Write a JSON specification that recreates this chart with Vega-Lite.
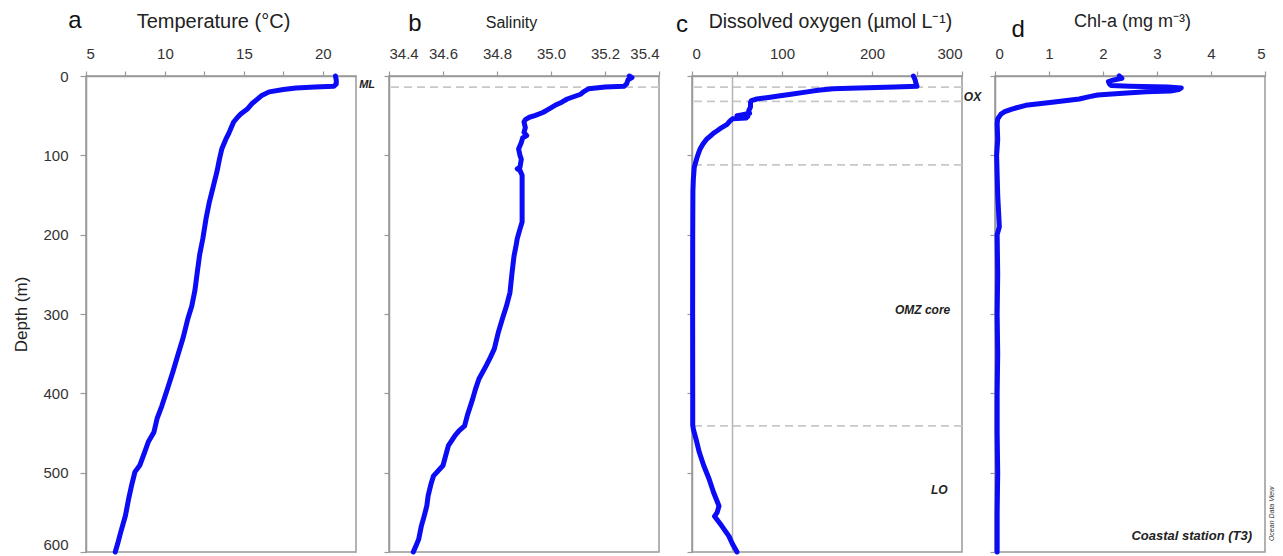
{
  "$schema": "https://vega.github.io/schema/vega-lite/v6.json",
  "padding": {"left": 12, "top": 8, "right": 2, "bottom": 0},
  "bounds": "flush",
  "spacing": 33,
  "background": "white",
  "config": {
    "font": "Liberation Sans",
    "view": {"stroke": "#999999", "strokeWidth": 1.5},
    "axis": {
      "labelFont": "Liberation Sans", "titleFont": "Liberation Sans",
      "labelFontSize": 15, "titleFontSize": 18, "labelColor": "#333333", "titleColor": "#222222",
      "titleFontWeight": "normal", "domainColor": "#999999", "domainWidth": 1.5,
      "tickColor": "#999999", "tickWidth": 1.2, "grid": false
    }
  },
  "datasets": {
    "temp": [
      {"depth": 0, "v": 20.8}, {"depth": 5, "v": 20.85}, {"depth": 10, "v": 20.85}, {"depth": 13, "v": 20.7},
      {"depth": 14, "v": 19.5}, {"depth": 15, "v": 18.3}, {"depth": 17, "v": 17.5}, {"depth": 20, "v": 16.6},
      {"depth": 25, "v": 16.1}, {"depth": 30, "v": 15.8}, {"depth": 35, "v": 15.5}, {"depth": 42, "v": 15.2},
      {"depth": 48, "v": 14.8}, {"depth": 52, "v": 14.6}, {"depth": 58, "v": 14.35}, {"depth": 65, "v": 14.2},
      {"depth": 72, "v": 14.05}, {"depth": 80, "v": 13.85}, {"depth": 92, "v": 13.6}, {"depth": 105, "v": 13.45},
      {"depth": 120, "v": 13.3}, {"depth": 140, "v": 13.05}, {"depth": 160, "v": 12.8}, {"depth": 180, "v": 12.6},
      {"depth": 205, "v": 12.4}, {"depth": 225, "v": 12.2}, {"depth": 247, "v": 12.05}, {"depth": 270, "v": 11.9},
      {"depth": 290, "v": 11.7}, {"depth": 306, "v": 11.45}, {"depth": 330, "v": 11.15}, {"depth": 353, "v": 10.8},
      {"depth": 373, "v": 10.5}, {"depth": 395, "v": 10.15}, {"depth": 416, "v": 9.8}, {"depth": 432, "v": 9.5},
      {"depth": 449, "v": 9.3}, {"depth": 461, "v": 8.95}, {"depth": 475, "v": 8.7}, {"depth": 491, "v": 8.4},
      {"depth": 499, "v": 8.1}, {"depth": 515, "v": 7.9}, {"depth": 533, "v": 7.7}, {"depth": 554, "v": 7.5},
      {"depth": 575, "v": 7.2}, {"depth": 590, "v": 7.0}, {"depth": 600, "v": 6.85}
    ],
    "sal": [
      {"depth": 0, "v": 35.29}, {"depth": 2, "v": 35.3}, {"depth": 5, "v": 35.285}, {"depth": 10, "v": 35.28},
      {"depth": 13, "v": 35.27}, {"depth": 14, "v": 35.2}, {"depth": 16, "v": 35.14}, {"depth": 20, "v": 35.12},
      {"depth": 23, "v": 35.11}, {"depth": 29, "v": 35.06}, {"depth": 33, "v": 35.04}, {"depth": 37, "v": 35.015},
      {"depth": 42, "v": 34.99}, {"depth": 46, "v": 34.97}, {"depth": 50, "v": 34.94}, {"depth": 52, "v": 34.92},
      {"depth": 55, "v": 34.905}, {"depth": 58, "v": 34.9}, {"depth": 65, "v": 34.905}, {"depth": 71, "v": 34.9},
      {"depth": 75, "v": 34.91}, {"depth": 78, "v": 34.895}, {"depth": 84, "v": 34.89}, {"depth": 88, "v": 34.885},
      {"depth": 92, "v": 34.88}, {"depth": 100, "v": 34.885}, {"depth": 105, "v": 34.89}, {"depth": 115, "v": 34.885},
      {"depth": 117, "v": 34.875}, {"depth": 119, "v": 34.885}, {"depth": 125, "v": 34.893}, {"depth": 150, "v": 34.893},
      {"depth": 184, "v": 34.893}, {"depth": 193, "v": 34.885}, {"depth": 205, "v": 34.875}, {"depth": 215, "v": 34.87},
      {"depth": 227, "v": 34.863}, {"depth": 247, "v": 34.856}, {"depth": 260, "v": 34.852}, {"depth": 273, "v": 34.848},
      {"depth": 290, "v": 34.835}, {"depth": 306, "v": 34.82}, {"depth": 323, "v": 34.805}, {"depth": 344, "v": 34.79},
      {"depth": 355, "v": 34.775}, {"depth": 365, "v": 34.76}, {"depth": 382, "v": 34.733}, {"depth": 395, "v": 34.72},
      {"depth": 407, "v": 34.71}, {"depth": 428, "v": 34.69}, {"depth": 441, "v": 34.68}, {"depth": 447, "v": 34.66},
      {"depth": 453, "v": 34.645}, {"depth": 466, "v": 34.62}, {"depth": 491, "v": 34.6}, {"depth": 504, "v": 34.565},
      {"depth": 515, "v": 34.555}, {"depth": 529, "v": 34.545}, {"depth": 542, "v": 34.54}, {"depth": 555, "v": 34.53},
      {"depth": 567, "v": 34.52}, {"depth": 584, "v": 34.51}, {"depth": 592, "v": 34.5}, {"depth": 600, "v": 34.49}
    ],
    "oxy": [
      {"depth": 0, "v": 246}, {"depth": 5, "v": 248}, {"depth": 10, "v": 249}, {"depth": 13, "v": 250},
      {"depth": 14, "v": 225}, {"depth": 15, "v": 185}, {"depth": 16, "v": 157}, {"depth": 18, "v": 140},
      {"depth": 20, "v": 128}, {"depth": 23, "v": 110}, {"depth": 25, "v": 98}, {"depth": 27, "v": 85},
      {"depth": 29, "v": 72}, {"depth": 31, "v": 66}, {"depth": 33, "v": 65}, {"depth": 39, "v": 65},
      {"depth": 44, "v": 63}, {"depth": 47, "v": 64}, {"depth": 49, "v": 55}, {"depth": 50, "v": 50},
      {"depth": 51, "v": 62}, {"depth": 53, "v": 60}, {"depth": 54, "v": 45}, {"depth": 57, "v": 42},
      {"depth": 61, "v": 39}, {"depth": 65, "v": 33}, {"depth": 69, "v": 28}, {"depth": 72, "v": 24},
      {"depth": 76, "v": 20}, {"depth": 80, "v": 16}, {"depth": 86, "v": 12}, {"depth": 92, "v": 9},
      {"depth": 98, "v": 7}, {"depth": 105, "v": 5}, {"depth": 115, "v": 2.5}, {"depth": 130, "v": 1.5},
      {"depth": 145, "v": 1}, {"depth": 200, "v": 0.8}, {"depth": 300, "v": 0.7}, {"depth": 400, "v": 0.8},
      {"depth": 440, "v": 0.8}, {"depth": 445, "v": 1.5}, {"depth": 460, "v": 5}, {"depth": 474, "v": 8},
      {"depth": 491, "v": 13}, {"depth": 508, "v": 19}, {"depth": 525, "v": 24}, {"depth": 542, "v": 30},
      {"depth": 550, "v": 28}, {"depth": 555, "v": 25}, {"depth": 567, "v": 33}, {"depth": 580, "v": 41},
      {"depth": 590, "v": 45}, {"depth": 600, "v": 50}
    ],
    "chl": [
      {"depth": 0, "v": 2.3}, {"depth": 3, "v": 2.35}, {"depth": 5, "v": 2.2}, {"depth": 7, "v": 2.1},
      {"depth": 10, "v": 2.12}, {"depth": 12, "v": 2.15}, {"depth": 13, "v": 2.5}, {"depth": 14, "v": 3.2},
      {"depth": 15, "v": 3.45}, {"depth": 17, "v": 3.4}, {"depth": 19, "v": 3.25}, {"depth": 20, "v": 2.8},
      {"depth": 22, "v": 2.3}, {"depth": 24, "v": 1.9}, {"depth": 26, "v": 1.75}, {"depth": 29, "v": 1.56},
      {"depth": 33, "v": 1.06}, {"depth": 37, "v": 0.57}, {"depth": 40, "v": 0.4}, {"depth": 42, "v": 0.3},
      {"depth": 45, "v": 0.18}, {"depth": 48, "v": 0.11}, {"depth": 54, "v": 0.05}, {"depth": 60, "v": 0.04},
      {"depth": 80, "v": 0.05}, {"depth": 100, "v": 0.03}, {"depth": 150, "v": 0.05}, {"depth": 190, "v": 0.08},
      {"depth": 200, "v": 0.04}, {"depth": 250, "v": 0.05}, {"depth": 300, "v": 0.04}, {"depth": 350, "v": 0.05},
      {"depth": 400, "v": 0.04}, {"depth": 450, "v": 0.04}, {"depth": 500, "v": 0.05}, {"depth": 550, "v": 0.04},
      {"depth": 600, "v": 0.04}
    ],
    "hlines": [
      {"panel": "b", "depth": 14}, {"panel": "c", "depth": 14}, {"panel": "c", "depth": 32},
      {"panel": "c", "depth": 112}, {"panel": "c", "depth": 441}
    ],
    "letters": [
      {"panel": "a", "v": 4.3, "depth": -60, "label": "a"},
      {"panel": "b", "v": 34.496, "depth": -57, "label": "b"},
      {"panel": "c", "v": -11, "depth": -55, "label": "c"},
      {"panel": "d", "v": 0.43, "depth": -49, "label": "d"}
    ],
    "notesL": [
      {"panel": "a", "v": 22.3, "depth": 11, "label": "ML"},
      {"panel": "c", "v": 302, "depth": 27, "label": "OX"}
    ],
    "notesR": [
      {"panel": "c", "v": 287, "depth": 295, "label": "OMZ core"},
      {"panel": "c", "v": 284, "depth": 522, "label": "LO"}
    ],
    "notesD": [
      {"v": 4.76, "depth": 580, "label": "Coastal station (T3)"}
    ],
    "odv": [
      {"v": 5.13, "depth": 552, "label": "Ocean Data View"}
    ],
    "vlines": [
      {"v": 45}
    ]
  },
  "hconcat": [
    {
      "width": 270, "height": 476,
      "layer": [
        {
          "data": {"name": "temp"},
          "mark": {"type": "line", "color": "#0b0bf5", "strokeWidth": 5, "strokeJoin": "round", "strokeCap": "round"},
          "encoding": {
            "x": {"field": "v", "type": "quantitative", "scale": {"domain": [5, 22.1], "nice": false, "zero": false},
              "axis": {"orient": "top", "title": "Temperature (°C)", "titleFontSize": 20, "values": [5, 7.5, 10, 12.5, 15, 17.5, 20],
                "labelExpr": "datum.value % 5 === 0 ? datum.label : ''", "tickSize": 5, "labelPadding": 10, "titlePadding": 15, "titleX": 127}},
            "y": {"field": "depth", "type": "quantitative", "scale": {"domain": [0, 600], "reverse": true, "nice": false},
              "axis": {"title": "Depth (m)", "values": [0, 50, 100, 150, 200, 250, 300, 350, 400, 450, 500, 550, 600],
                "labelExpr": "datum.value % 100 === 0 ? datum.label : ''",
                "labelBaseline": {"condition": {"test": "datum.value === 600", "value": "bottom"}, "value": "middle"},
                "tickSize": 6, "labelPadding": 12, "titlePadding": 12, "titleFontSize": 17}},
            "order": {"field": "depth", "type": "quantitative"}
          }
        },
        {
          "data": {"name": "letters"},
          "transform": [{"filter": "datum.panel === 'a'"}],
          "mark": {"type": "text", "fontSize": 24, "color": "#111111", "align": "center", "baseline": "alphabetic"},
          "encoding": {"x": {"field": "v", "type": "quantitative"}, "y": {"field": "depth", "type": "quantitative"}, "text": {"field": "label"}}
        },
        {
          "data": {"name": "notesL"},
          "transform": [{"filter": "datum.panel === 'a'"}],
          "mark": {"type": "text", "fontSize": 11, "fontWeight": "bold", "fontStyle": "italic", "color": "#222222", "align": "left", "baseline": "middle"},
          "encoding": {"x": {"field": "v", "type": "quantitative"}, "y": {"field": "depth", "type": "quantitative"}, "text": {"field": "label"}}
        }
      ]
    },
    {
      "width": 270, "height": 476,
      "layer": [
        {
          "data": {"name": "hlines"},
          "transform": [{"filter": "datum.panel === 'b'"}],
          "mark": {"type": "rule", "color": "#c8c8c8", "strokeWidth": 1.6, "strokeDash": [8, 5]},
          "encoding": {"y": {"field": "depth", "type": "quantitative"}}
        },
        {
          "data": {"name": "sal"},
          "mark": {"type": "line", "color": "#0b0bf5", "strokeWidth": 5, "strokeJoin": "round", "strokeCap": "round"},
          "encoding": {
            "x": {"field": "v", "type": "quantitative", "scale": {"domain": [34.4, 35.4], "nice": false, "zero": false},
              "axis": {"orient": "top", "title": "Salinity", "titleFontSize": 16, "values": [34.4, 34.5, 34.6, 34.7, 34.8, 34.9, 35.0, 35.1, 35.2, 35.3, 35.4],
                "labelExpr": "(round(datum.value * 10) % 2 === 0) ? format(datum.value, '.1f') : ''", "tickSize": 5, "labelPadding": 10, "titlePadding": 16, "titleX": 122}},
            "y": {"field": "depth", "type": "quantitative", "scale": {"domain": [0, 600], "reverse": true, "nice": false},
              "axis": {"title": null, "labels": false, "values": [0, 50, 100, 150, 200, 250, 300, 350, 400, 450, 500, 550, 600], "tickSize": 5}},
            "order": {"field": "depth", "type": "quantitative"}
          }
        },
        {
          "data": {"name": "letters"},
          "transform": [{"filter": "datum.panel === 'b'"}],
          "mark": {"type": "text", "fontSize": 24, "color": "#111111", "align": "center", "baseline": "alphabetic"},
          "encoding": {"x": {"field": "v", "type": "quantitative"}, "y": {"field": "depth", "type": "quantitative"}, "text": {"field": "label"}}
        }
      ]
    },
    {
      "width": 270, "height": 476,
      "layer": [
        {
          "data": {"name": "hlines"},
          "transform": [{"filter": "datum.panel === 'c'"}],
          "mark": {"type": "rule", "color": "#c8c8c8", "strokeWidth": 1.6, "strokeDash": [8, 5]},
          "encoding": {"y": {"field": "depth", "type": "quantitative"}}
        },
        {
          "data": {"name": "vlines"},
          "mark": {"type": "rule", "color": "#b4b4b4", "strokeWidth": 1.5},
          "encoding": {"x": {"field": "v", "type": "quantitative"}}
        },
        {
          "data": {"name": "oxy"},
          "mark": {"type": "line", "color": "#0b0bf5", "strokeWidth": 5, "strokeJoin": "round", "strokeCap": "round"},
          "encoding": {
            "x": {"field": "v", "type": "quantitative", "scale": {"domain": [0, 300], "nice": false},
              "axis": {"orient": "top", "title": "Dissolved oxygen (µmol L⁻¹)", "titleFontSize": 19.5, "values": [0, 50, 100, 150, 200, 250, 300],
                "labelExpr": "datum.value % 100 === 0 ? datum.label : ''", "tickSize": 5, "labelPadding": 10, "titlePadding": 15, "titleX": 138}},
            "y": {"field": "depth", "type": "quantitative", "scale": {"domain": [0, 600], "reverse": true, "nice": false},
              "axis": {"title": null, "labels": false, "values": [0, 50, 100, 150, 200, 250, 300, 350, 400, 450, 500, 550, 600], "tickSize": 5}},
            "order": {"field": "depth", "type": "quantitative"}
          }
        },
        {
          "data": {"name": "letters"},
          "transform": [{"filter": "datum.panel === 'c'"}],
          "mark": {"type": "text", "fontSize": 24, "color": "#111111", "align": "center", "baseline": "alphabetic"},
          "encoding": {"x": {"field": "v", "type": "quantitative"}, "y": {"field": "depth", "type": "quantitative"}, "text": {"field": "label"}}
        },
        {
          "data": {"name": "notesL"},
          "transform": [{"filter": "datum.panel === 'c'"}],
          "mark": {"type": "text", "fontSize": 12, "fontWeight": "bold", "fontStyle": "italic", "color": "#222222", "align": "left", "baseline": "middle"},
          "encoding": {"x": {"field": "v", "type": "quantitative"}, "y": {"field": "depth", "type": "quantitative"}, "text": {"field": "label"}}
        },
        {
          "data": {"name": "notesR"},
          "mark": {"type": "text", "fontSize": 12, "fontWeight": "bold", "fontStyle": "italic", "color": "#222222", "align": "right", "baseline": "middle"},
          "encoding": {"x": {"field": "v", "type": "quantitative"}, "y": {"field": "depth", "type": "quantitative"}, "text": {"field": "label"}}
        }
      ]
    },
    {
      "width": 270, "height": 476,
      "layer": [
        {
          "data": {"name": "chl"},
          "mark": {"type": "line", "color": "#0b0bf5", "strokeWidth": 5, "strokeJoin": "round", "strokeCap": "round"},
          "encoding": {
            "x": {"field": "v", "type": "quantitative", "scale": {"domain": [0, 5], "nice": false},
              "axis": {"orient": "top", "title": "Chl-a (mg m⁻³)", "titleFontSize": 18, "values": [0, 0.5, 1, 1.5, 2, 2.5, 3, 3.5, 4, 4.5, 5],
                "labelExpr": "datum.value % 1 === 0 ? datum.label : ''", "tickSize": 5, "labelPadding": 10, "titlePadding": 16, "titleX": 137}},
            "y": {"field": "depth", "type": "quantitative", "scale": {"domain": [0, 600], "reverse": true, "nice": false},
              "axis": {"title": null, "labels": false, "values": [0, 50, 100, 150, 200, 250, 300, 350, 400, 450, 500, 550, 600], "tickSize": 5}},
            "order": {"field": "depth", "type": "quantitative"}
          }
        },
        {
          "data": {"name": "letters"},
          "transform": [{"filter": "datum.panel === 'd'"}],
          "mark": {"type": "text", "fontSize": 24, "color": "#111111", "align": "center", "baseline": "alphabetic"},
          "encoding": {"x": {"field": "v", "type": "quantitative"}, "y": {"field": "depth", "type": "quantitative"}, "text": {"field": "label"}}
        },
        {
          "data": {"name": "notesD"},
          "mark": {"type": "text", "fontSize": 13, "fontWeight": "bold", "fontStyle": "italic", "color": "#222222", "align": "right", "baseline": "middle"},
          "encoding": {"x": {"field": "v", "type": "quantitative"}, "y": {"field": "depth", "type": "quantitative"}, "text": {"field": "label"}}
        },
        {
          "data": {"name": "odv"},
          "mark": {"type": "text", "fontSize": 7, "fontStyle": "italic", "color": "#333333", "align": "center", "baseline": "middle", "angle": 270},
          "encoding": {"x": {"field": "v", "type": "quantitative"}, "y": {"field": "depth", "type": "quantitative"}, "text": {"field": "label"}}
        }
      ]
    }
  ]
}
